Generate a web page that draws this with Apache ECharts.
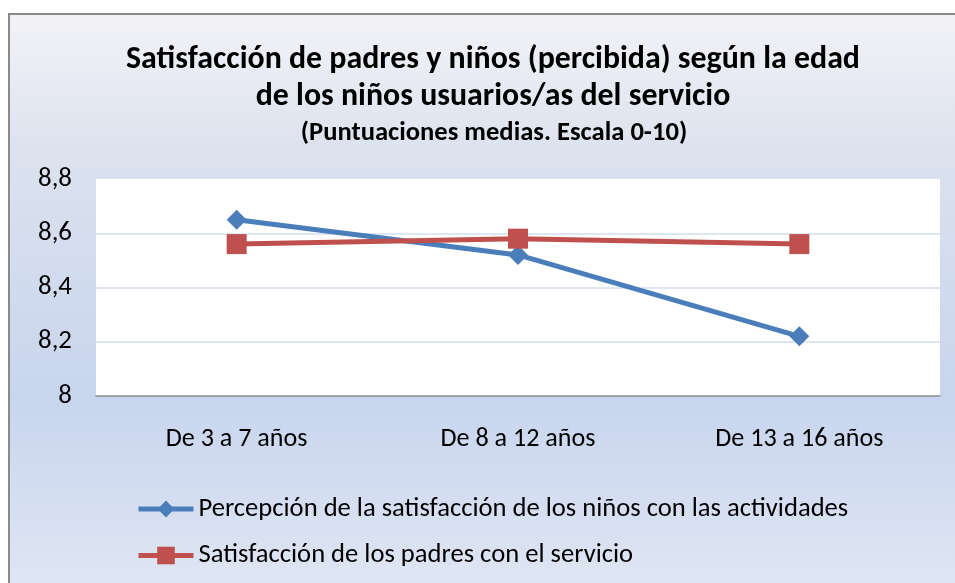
<!DOCTYPE html>
<html><head><meta charset="utf-8">
<script src="https://cdn.jsdelivr.net/npm/echarts@6/dist/echarts.min.js"></script>
<style>html,body{margin:0;padding:0;background:#fff}#c{width:955px;height:583px}</style>
</head><body><div id="c"></div>
<script>
const titleLines = ['Satisfacción de padres y niños (percibida) según la edad', 'de los niños usuarios/as del servicio'];
const subtitle = '(Puntuaciones medias. Escala 0-10)';
const categories = ['De 3 a 7 años', 'De 8 a 12 años', 'De 13 a 16 años'];
const seriesNames = ['Percepción de la satisfacción de los niños con las actividades', 'Satisfacción de los padres con el servicio'];
const ninos = [8.65, 8.52, 8.22];
const padres = [8.56, 8.58, 8.56];
const yMin = 8, yMax = 8.8, yStep = 0.2;

const FONT = 'Carlito, Lato, "Open Sans", sans-serif';
const ctx = document.createElement('canvas').getContext('2d');
function fit(text, weight, target) {
  ctx.font = weight + ' 100px ' + FONT;
  return Math.round(1000 * target / ctx.measureText(text).width) / 10;
}
const titleSize = fit(titleLines[0], 'bold', 734);
const subSize = fit(subtitle, 'bold', 386);
const catSize = fit(categories[0], 'normal', 142);
const legSize = fit(seriesNames[0], 'normal', 651);
const ySize = fit('8,8', 'normal', 34);

function legendFor(name, centerY, h) {
  return {
    data: [name], orient: 'vertical', left: 136, top: centerY - h / 2, padding: 0,
    itemWidth: 55, itemHeight: h,
    lineStyle: {width: 5},
    textStyle: {fontFamily: FONT, fontSize: legSize, color: '#000'}
  };
}

const chart = echarts.init(document.getElementById('c'), null, {renderer: 'canvas'});
chart.setOption({
  animation: false,
  textStyle: {fontFamily: FONT},
  graphic: [{
    type: 'rect', z: -10, silent: true,
    shape: {x: 9, y: 14, width: 1000, height: 600},
    style: {
      fill: new echarts.graphic.LinearGradient(0, 0, 0, 1, [
        {offset: 0, color: '#f3f3f7'},
        {offset: 0.23, color: '#dce2ee'},
        {offset: 0.64, color: '#c8d5ee'},
        {offset: 0.95, color: '#dfe6f3'},
        {offset: 1, color: '#e2e8f4'}
      ]),
      stroke: '#8a8a8a', lineWidth: 2
    }
  }],
  title: [{
    text: titleLines.join('\n'),
    left: 488, top: 37, textAlign: 'center',
    textStyle: {fontFamily: FONT, fontWeight: 'bold', fontSize: titleSize, lineHeight: 37, color: '#000'}
  }, {
    text: subtitle,
    left: 489, top: 118, textAlign: 'center',
    textStyle: {fontFamily: FONT, fontWeight: 'bold', fontSize: subSize, lineHeight: 20, color: '#000'}
  }],
  grid: {left: 96, top: 179, right: 15, bottom: 187, show: true, backgroundColor: '#fff', borderWidth: 0, containLabel: false},
  xAxis: {
    type: 'category', data: categories, boundaryGap: true,
    axisLine: {show: true, lineStyle: {color: '#8a8a8a', width: 1.5}},
    axisTick: {show: false},
    axisLabel: {fontFamily: FONT, fontSize: catSize, color: '#000', margin: 30}
  },
  yAxis: {
    type: 'value', min: yMin, max: yMax, interval: yStep,
    axisLine: {show: false}, axisTick: {show: false},
    splitLine: {show: true, showMaxLine: false, showMinLine: false, lineStyle: {color: '#d3deee', width: 1.5}},
    axisLabel: {fontFamily: FONT, fontSize: ySize, color: '#000', margin: 24,
      formatter: v => String(+v.toFixed(1)).replace('.', ',')}
  },
  legend: [legendFor(seriesNames[0], 506, 21), legendFor(seriesNames[1], 553, 22)],
  series: [{
    name: seriesNames[0], type: 'line', data: ninos,
    symbol: 'diamond', symbolSize: 20,
    lineStyle: {width: 5, color: '#4a7ebb'},
    itemStyle: {color: '#4a7ebb'}
  }, {
    name: seriesNames[1], type: 'line', data: padres,
    symbol: 'rect', symbolSize: 20,
    lineStyle: {width: 5, color: '#c0504d'},
    itemStyle: {color: '#c0504d'}
  }]
});
</script></body></html>
